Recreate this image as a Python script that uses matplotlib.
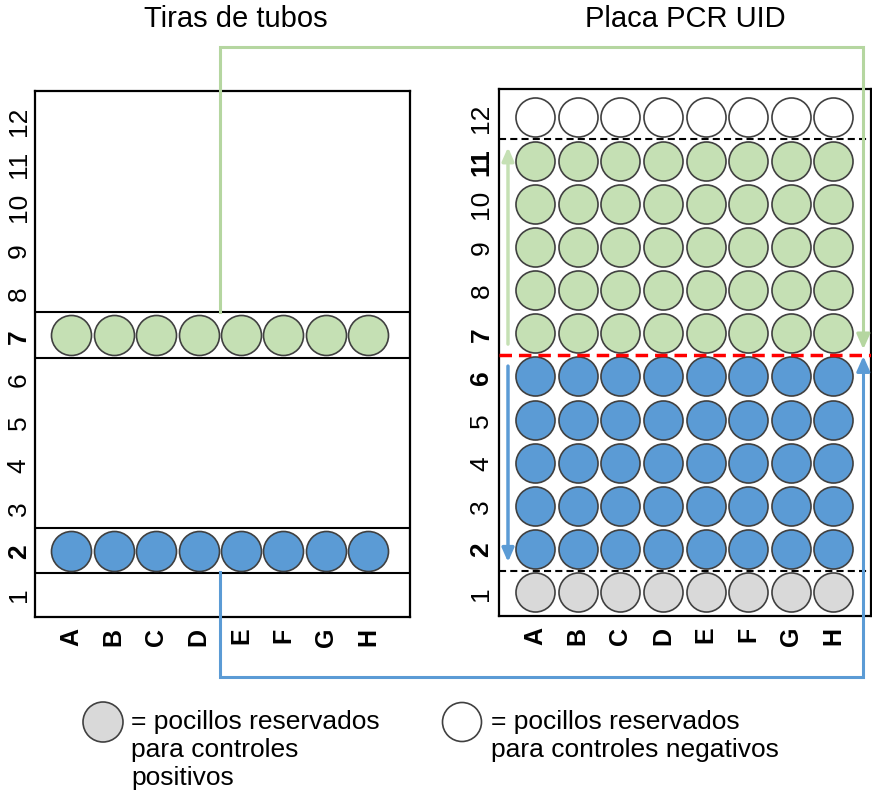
import matplotlib
matplotlib.use('Agg')
import matplotlib.pyplot as plt
from matplotlib.patches import Circle

plt.rcParams['font.family'] = ['Liberation Sans', 'DejaVu Sans']

# --- data ---
cols = ['A', 'B', 'C', 'D', 'E', 'F', 'G', 'H']
rows = list(range(1, 13))
strip_rows = [7, 2]                 # tube strips (left)
strip_colors = ['#c5e0b4', '#5b9bd5']
left_bold = [2, 7]
neg_row = [12]                      # white wells
green_rows = [7, 8, 9, 10, 11]
blue_rows = [2, 3, 4, 5, 6]
pos_row = [1]                       # grey wells
right_bold = [2, 6, 7, 11]

GREEN, BLUE, GREY = '#c5e0b4', '#5b9bd5', '#d9d9d9'
LGREEN = '#b5d6a0'
EDGE = '#404040'
W, H = 872, 803

fig = plt.figure(figsize=(W / 100, H / 100), dpi=100)

def px_axes(x0, y0, x1, y1):
    return fig.add_axes([x0 / W, 1 - y1 / H, (x1 - x0) / W, (y1 - y0) / H])

ax1 = px_axes(35, 92, 410, 618)
ax2 = px_axes(499, 90, 871, 617)
ax0 = fig.add_axes([0, 0, 1, 1], zorder=5)
ax0.set_xlim(0, W); ax0.set_ylim(H, 0); ax0.axis('off')
ax0.patch.set_alpha(0)

def style_panel(ax, xlim, ylim, bold, pad_y):
    ax.set_xlim(*xlim); ax.set_ylim(*ylim)
    ax.set_xticks(range(len(cols)))
    ax.set_xticklabels(cols, rotation=90, fontsize=18, fontweight='bold')
    ax.set_yticks(rows)
    ax.set_yticklabels([str(r) for r in rows], rotation=90, va='center', fontsize=19)
    for lab, r in zip(ax.get_yticklabels(), rows):
        if r in bold:
            lab.set_fontweight('bold')
    ax.tick_params(length=0)
    ax.tick_params(axis='x', pad=7)
    ax.tick_params(axis='y', pad=pad_y)
    for s in ax.spines.values():
        s.set_linewidth(1.6)

# --- left: tube strips ---
style_panel(ax1, (-0.85, 7.98), (0.47, 12.67), left_bold, 3)
for r, c in zip(strip_rows, strip_colors):
    ax1.axhspan(r - 0.52, r + 0.54, fill=False, edgecolor='black', lw=1.5)
    ax1.scatter(range(len(cols)), [r] * len(cols), s=830, c=c,
                edgecolors=EDGE, linewidths=1.2, zorder=3)

# --- right: PCR plate ---
style_panel(ax2, (-0.845, 7.88), (0.45, 12.66), right_bold, 4)
for rr, c in [(neg_row, 'white'), (green_rows, GREEN), (blue_rows, BLUE), (pos_row, GREY)]:
    xs = [i for r in rr for i in range(len(cols))]
    ys = [r for r in rr for i in range(len(cols))]
    ax2.scatter(xs, ys, s=790, c=c, edgecolors=EDGE, linewidths=1.2, zorder=3)
ax2.axhline(11.5, color='black', lw=1.5, ls=(0, (3.4, 2)), zorder=4)
ax2.axhline(1.5, color='black', lw=1.5, ls=(0, (3.4, 2)), zorder=4)
ax2.axhline(6.5, color='#ff0000', lw=2.5, ls=(0, (3.6, 2)), zorder=4)
head = '-|>,head_width=0.35,head_length=0.8'
ax2.annotate('', xy=(-0.634, 11.31), xytext=(-0.634, 6.75),
             arrowprops=dict(arrowstyle=head, color=GREEN, lw=2.5, shrinkA=0, shrinkB=0))
ax2.annotate('', xy=(-0.634, 1.70), xytext=(-0.634, 6.24),
             arrowprops=dict(arrowstyle=head, color=BLUE, lw=2.5, shrinkA=0, shrinkB=0))

# --- connectors (overlay, pixel coords) ---
def to_px(ax, pt):
    return ax0.transData.inverted().transform(ax.transData.transform(pt))

def connector(start, tip, y_route, color):
    x0, y0 = to_px(ax1, start)
    x1, y1 = to_px(ax2, tip)
    d = 14 if y_route < y1 else -14      # length of the arrow-head segment
    ax0.plot([x0, x0, x1, x1], [y0, y_route, y_route, y1 - d],
             color=color, lw=2.2, solid_joinstyle='miter')
    ax0.annotate('', xy=(x1, y1), xytext=(x1, y1 - d - 1),
                 arrowprops=dict(arrowstyle='-|>,head_width=0.4,head_length=0.9',
                                 color=color, lw=2.2, shrinkA=0, shrinkB=0))

connector((3.5, 7.54), (7.7, 6.63), 48, LGREEN)
connector((3.5, 1.51), (7.7, 6.47), 678, BLUE)

# --- titles ---
ax0.text(236, 19, 'Tiras de tubos', fontsize=21, ha='center', va='center')
ax0.text(685, 19, 'Placa PCR UID', fontsize=21, ha='center', va='center')

# --- legend ---
ax0.add_patch(Circle((103, 723), 20, facecolor=GREY, edgecolor=EDGE, lw=1.2))
ax0.add_patch(Circle((462, 723), 19.5, facecolor='white', edgecolor=EDGE, lw=1.2))
for x, lines in [(131, ['= pocillos reservados', 'para controles', 'positivos']),
                 (491, ['= pocillos reservados', 'para controles negativos'])]:
    for k, t in enumerate(lines):
        ax0.text(x, 722 + 28 * k, t, fontsize=19, ha='left', va='center')

fig.savefig('out.png', dpi=100)
